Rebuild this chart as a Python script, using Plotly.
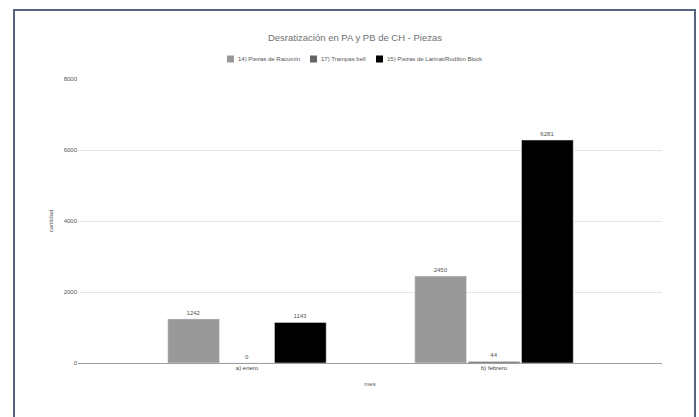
import plotly.graph_objects as go

categories = ["a) enero", "b) febrero"]
series_names = ["14) Piezas de Racumin", "17) Trampas bell", "15) Piezas de Larinat/Rodilón Block"]
racumin = [1242, 2450]
trampas = [0, 44]
larinat = [1143, 6281]
colors = ["#999999", "#666666", "#000000"]
y_ticks = [0, 2000, 4000, 6000, 8000]

W, H = 699, 417
L, R, T, B = 78, 37, 79, 54
PW, PH = W - L - R, H - T - B

def px(x):
    return (x - L) / PW

def py(y):
    return 1 - (y - T) / PH

fig = go.Figure()
for name, vals, col in zip(series_names, [racumin, trampas, larinat], colors):
    fig.add_trace(go.Bar(
        x=categories, y=vals, name=name, marker_color=col,
        text=[str(v) for v in vals], textposition="outside",
        textfont=dict(size=6, color="#555555"), cliponaxis=False,
        showlegend=False,
    ))

# legend: small squares + labels, centred as a group
SMALL = 6
char_w = {c: 0.556 for c in "0123456789aebdgnopqu"}
char_w.update({" ": 0.278, ")": 0.333, "/": 0.278, "i": 0.222, "l": 0.222, "t": 0.278, "r": 0.333,
               "z": 0.5, "s": 0.5, "c": 0.5, "k": 0.5, "m": 0.833, "P": 0.667, "R": 0.722, "T": 0.611,
               "L": 0.556, "B": 0.667, "ó": 0.556})

def text_w(s, size):
    return sum(char_w.get(c, 0.556) for c in s) * size

sq, gap_in, gap_out = 7, 3, 11
widths = [sq + gap_in + text_w(n, SMALL) for n in series_names]
total = sum(widths) + gap_out * (len(widths) - 1)
x = 354 - total / 2
ly = 59
for name, col, w in zip(series_names, colors, widths):
    fig.add_shape(type="rect", xref="paper", yref="paper", x0=px(x), x1=px(x + sq),
                  y0=py(ly + sq / 2), y1=py(ly - sq / 2), fillcolor=col, line=dict(width=0))
    fig.add_annotation(text=name, xref="paper", yref="paper", x=px(x + sq + gap_in), y=py(ly),
                       xanchor="left", yanchor="middle", showarrow=False,
                       font=dict(size=SMALL, color="#555555"), xshift=-1)
    x += w + gap_out

fig.update_layout(
    width=W, height=H,
    margin=dict(l=L, r=R, t=T, b=B),
    paper_bgcolor="white", plot_bgcolor="white",
    font=dict(family="Liberation Sans, Arial, sans-serif", size=SMALL, color="#555555"),
    title=dict(text="Desratización en PA y PB de CH - Piezas", xref="container", x=355 / W,
               xanchor="center", y=1 - 38 / H, yanchor="middle",
               font=dict(size=9.5, color="#707070")),
    barmode="group", bargap=0.352, bargroupgap=0.03,
    showlegend=False,
)
fig.update_xaxes(range=[-0.684, 1.68], showgrid=False, showline=False, ticks="",
                 title=dict(text="mes", font=dict(size=SMALL, color="#555555"), standoff=11),
                 tickfont=dict(size=SMALL, color="#444444"))
fig.update_yaxes(range=[0, 8000], tickvals=y_ticks, showgrid=True, gridcolor="#e6e6e6",
                 zeroline=True, zerolinecolor="#9e9e9e", zerolinewidth=1, ticks="",
                 title=dict(text="cantidad", font=dict(size=SMALL, color="#555555"), standoff=9),
                 tickfont=dict(size=SMALL, color="#555555"))

# frame border around the chart
fig.add_shape(type="rect", xref="paper", yref="paper",
              x0=px(14), x1=px(695), y0=py(440), y1=py(10),
              line=dict(color="#56647e", width=2), fillcolor="rgba(0,0,0,0)", layer="above")

fig.write_html("out.html", config={"displayModeBar": False},
               post_script="document.body.style.margin='0';document.body.style.overflow='hidden';")
